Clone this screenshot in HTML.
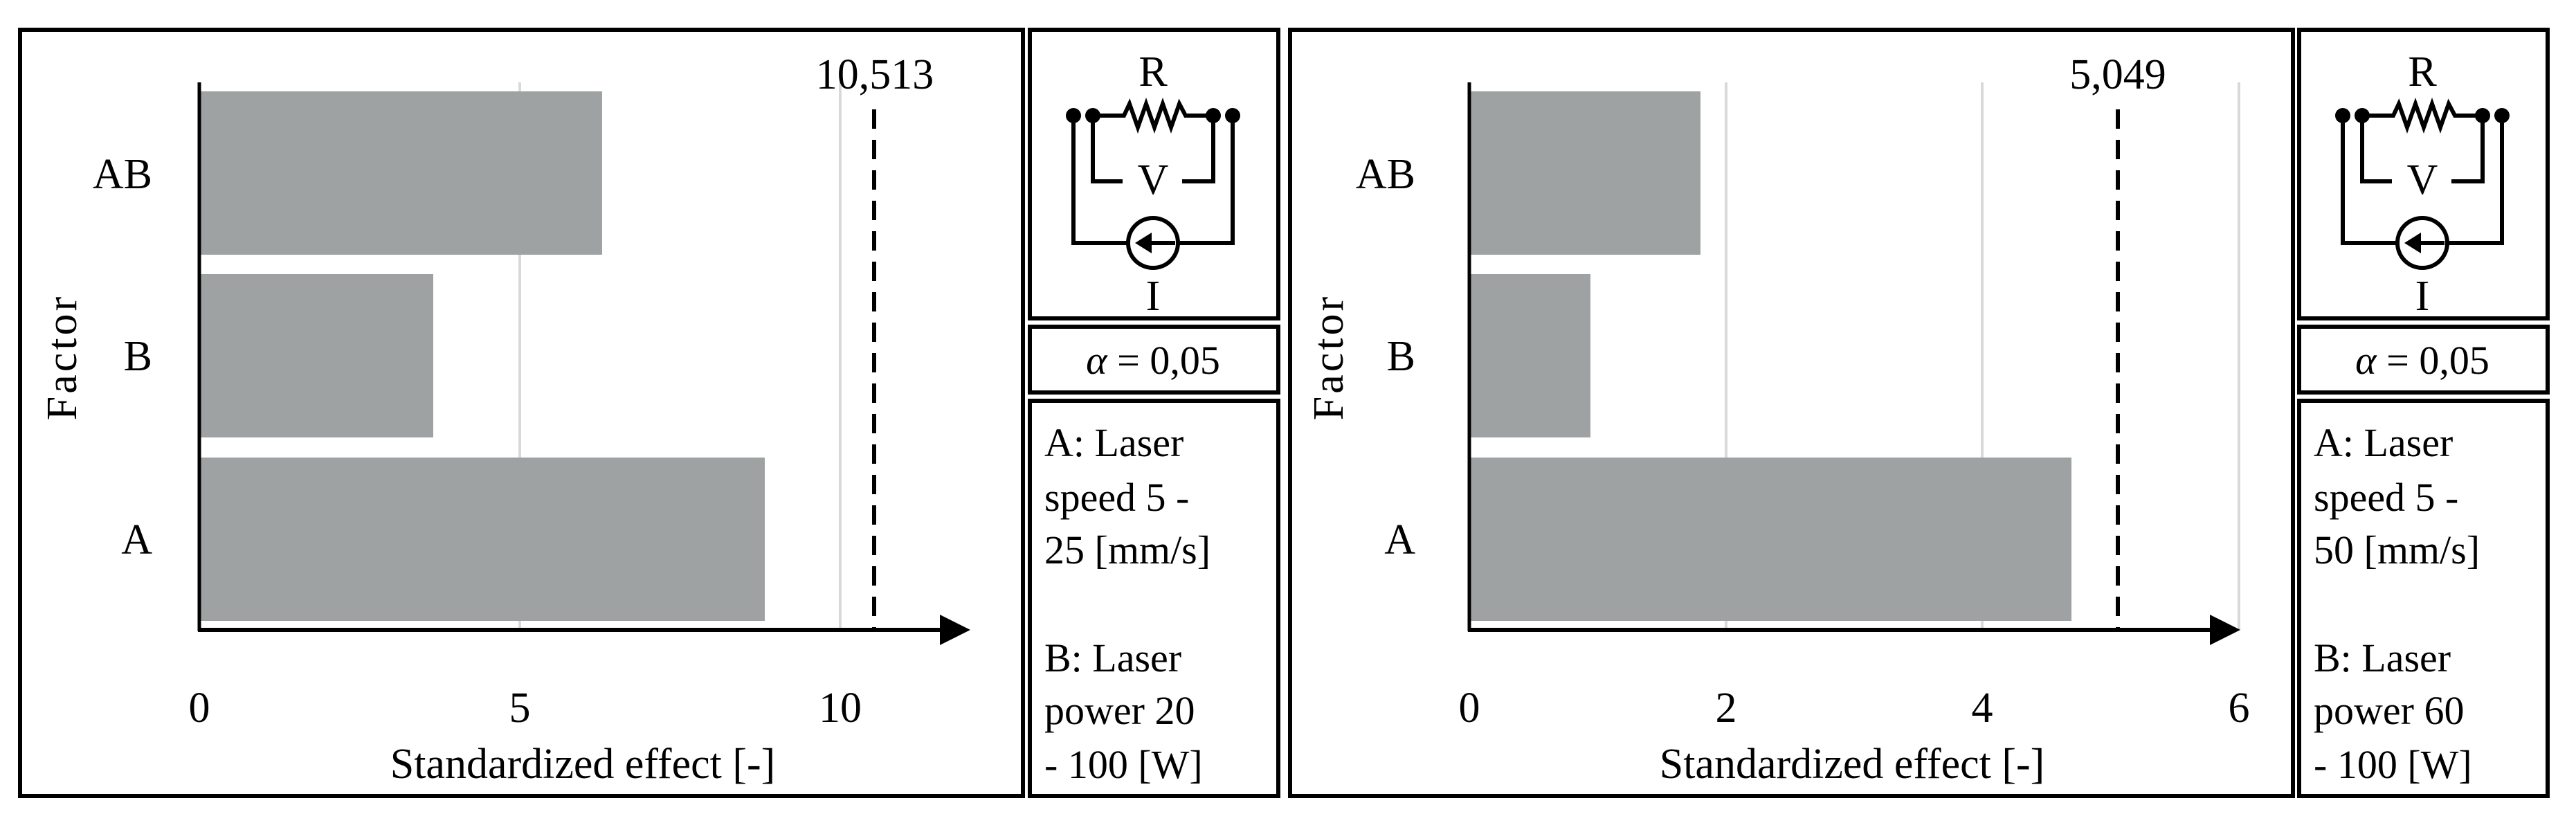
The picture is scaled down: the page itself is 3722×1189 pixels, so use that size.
<!DOCTYPE html>
<html><head><meta charset="utf-8"><style>
html,body{margin:0;padding:0;background:#fff}
svg{display:block}
text{font-family:"Liberation Serif",serif;fill:#000}
</style></head><body>
<svg width="3722" height="1189" viewBox="0 0 3722 1189" xmlns="http://www.w3.org/2000/svg">
<defs>
<g id="circ">
  <rect x="1488" y="43" width="359" height="417" fill="none" stroke="#000" stroke-width="6"/>
  <rect x="1488" y="472" width="359" height="95" fill="none" stroke="#000" stroke-width="6"/>
  <rect x="1488" y="579" width="359" height="571" fill="none" stroke="#000" stroke-width="6"/>
  <text x="1666" y="124" font-size="62" text-anchor="middle">R</text>
  <polyline points="1579,167 1624,167 1632,150 1644,184 1656,150 1668,184 1680,150 1692,184 1704,150 1713,167 1753,167" fill="none" stroke="#000" stroke-width="6"/>
  <circle cx="1551" cy="167" r="11"/><circle cx="1579" cy="167" r="11"/>
  <circle cx="1753" cy="167" r="11"/><circle cx="1781" cy="167" r="11"/>
  <polyline points="1579,167 1579,262 1622,262" fill="none" stroke="#000" stroke-width="6"/>
  <polyline points="1708,262 1753,262 1753,167" fill="none" stroke="#000" stroke-width="6"/>
  <text x="1666" y="280" font-size="62" text-anchor="middle">V</text>
  <polyline points="1551,167 1551,351 1630,351" fill="none" stroke="#000" stroke-width="6"/>
  <polyline points="1702,351 1781,351 1781,167" fill="none" stroke="#000" stroke-width="6"/>
  <circle cx="1666" cy="351" r="36" fill="none" stroke="#000" stroke-width="6"/>
  <line x1="1660" y1="351" x2="1698" y2="351" stroke="#000" stroke-width="6"/>
  <polygon points="1640,351 1664,336 1664,366"/>
  <text x="1666" y="448" font-size="62" text-anchor="middle">I</text>
  <text x="1666" y="540" font-size="58" text-anchor="middle"><tspan font-style="italic">α</tspan> = 0,05</text>
</g>
</defs>
<!-- LEFT -->
<rect x="29" y="43" width="1449" height="1107" fill="none" stroke="#000" stroke-width="6"/>
<line x1="751" y1="119" x2="751" y2="910" stroke="#d9d9d9" stroke-width="4"/>
<line x1="1214" y1="119" x2="1214" y2="910" stroke="#d9d9d9" stroke-width="4"/>
<rect x="288" y="132" width="582" height="236" fill="#9fa2a3"/>
<rect x="288" y="396" width="338" height="236" fill="#9fa2a3"/>
<rect x="288" y="661" width="817" height="236" fill="#9fa2a3"/>
<line x1="1263" y1="158" x2="1263" y2="910" stroke="#000" stroke-width="6" stroke-dasharray="28,16"/>
<line x1="288" y1="119" x2="288" y2="912" stroke="#000" stroke-width="5"/>
<line x1="286" y1="910" x2="1365" y2="910" stroke="#000" stroke-width="6"/>
<polygon points="1402,910 1358,888 1358,932"/>
<text x="1264" y="128" font-size="62" text-anchor="middle">10,513</text>
<text x="220" y="272" font-size="62" text-anchor="end">AB</text>
<text x="220" y="535" font-size="62" text-anchor="end">B</text>
<text x="220" y="800" font-size="62" text-anchor="end">A</text>
<text x="288" y="1043" font-size="62" text-anchor="middle">0</text>
<text x="751" y="1043" font-size="62" text-anchor="middle">5</text>
<text x="1214" y="1043" font-size="62" text-anchor="middle">10</text>
<text x="842" y="1124" font-size="62" text-anchor="middle">Standardized effect [-]</text>
<text transform="translate(110,516) rotate(-90)" font-size="62" text-anchor="middle" letter-spacing="4">Factor</text>
<use href="#circ"/>
<g font-size="58">
<text x="1509" y="659">A: Laser</text>
<text x="1509" y="738">speed 5 -</text>
<text x="1509" y="814">25 [mm/s]</text>
<text x="1509" y="970">B: Laser</text>
<text x="1509" y="1046">power 20</text>
<text x="1509" y="1124">- 100 [W]</text>
</g>
<!-- RIGHT -->
<rect x="1864" y="43" width="1449" height="1107" fill="none" stroke="#000" stroke-width="6"/>
<line x1="2494" y1="119" x2="2494" y2="910" stroke="#d9d9d9" stroke-width="4"/>
<line x1="2864" y1="119" x2="2864" y2="910" stroke="#d9d9d9" stroke-width="4"/>
<line x1="3235" y1="119" x2="3235" y2="910" stroke="#d9d9d9" stroke-width="4"/>
<rect x="2123" y="132" width="334" height="236" fill="#9fa2a3"/>
<rect x="2123" y="396" width="175" height="236" fill="#9fa2a3"/>
<rect x="2123" y="661" width="870" height="236" fill="#9fa2a3"/>
<line x1="3060" y1="158" x2="3060" y2="910" stroke="#000" stroke-width="6" stroke-dasharray="28,16"/>
<line x1="2123" y1="119" x2="2123" y2="912" stroke="#000" stroke-width="5"/>
<line x1="2121" y1="910" x2="3200" y2="910" stroke="#000" stroke-width="6"/>
<polygon points="3237,910 3193,888 3193,932"/>
<text x="3060" y="128" font-size="62" text-anchor="middle">5,049</text>
<text x="2045" y="272" font-size="62" text-anchor="end">AB</text>
<text x="2045" y="535" font-size="62" text-anchor="end">B</text>
<text x="2045" y="800" font-size="62" text-anchor="end">A</text>
<text x="2123" y="1043" font-size="62" text-anchor="middle">0</text>
<text x="2494" y="1043" font-size="62" text-anchor="middle">2</text>
<text x="2864" y="1043" font-size="62" text-anchor="middle">4</text>
<text x="3235" y="1043" font-size="62" text-anchor="middle">6</text>
<text x="2676" y="1124" font-size="62" text-anchor="middle">Standardized effect [-]</text>
<text transform="translate(1940,516) rotate(-90)" font-size="62" text-anchor="middle" letter-spacing="4">Factor</text>
<use href="#circ" transform="translate(1834,0)"/>
<g font-size="58">
<text x="3343" y="659">A: Laser</text>
<text x="3343" y="738">speed 5 -</text>
<text x="3343" y="814">50 [mm/s]</text>
<text x="3343" y="970">B: Laser</text>
<text x="3343" y="1046">power 60</text>
<text x="3343" y="1124">- 100 [W]</text>
</g>
</svg>
</body></html>
